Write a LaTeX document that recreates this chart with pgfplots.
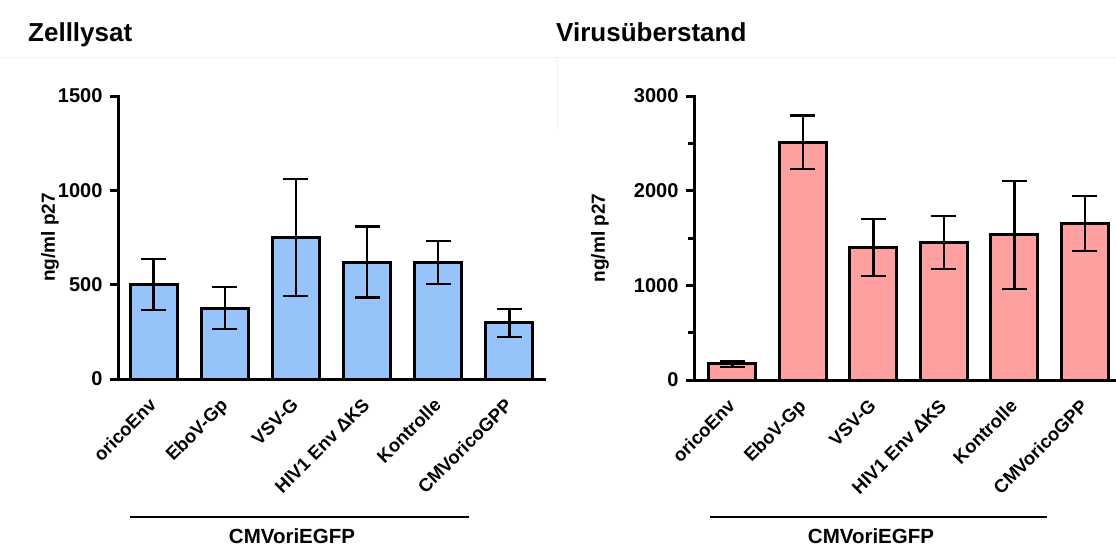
\documentclass[border=0pt]{standalone}
\usepackage{pgfplots}
\pgfplotsset{compat=1.18}
\usepackage{pgfplotstable}
\usepackage{fontspec}
\setmainfont{Liberation Sans}
\definecolor{barblue}{RGB}{150,195,250}
\definecolor{barpink}{RGB}{255,160,160}

\pgfplotstableread{
x y err
0 500 135
1 375 112
2 750 310
3 620 188
4 617 115
5 298 75
}\lysat
\pgfplotstableread{
x y err
0 170 30
1 2510 285
2 1400 300
3 1450 280
4 1535 570
5 1650 290
}\virus

\pgfplotsset{
  mybar/.style={
    scale only axis,
    axis x line*=bottom, axis y line*=left,
    axis line style={line width=3pt, line cap=rect},
    ymin=0,
    xtick={0,1,2,3,4,5},
    xticklabels={oricoEnv,EboV-Gp,VSV-G,HIV1 Env ΔKS,Kontrolle,CMVoricoGPP},
    x tick label style={rotate=45, anchor=north east, font=\fontsize{18.5}{20}\selectfont\bfseries, inner sep=2pt, yshift=-1pt, xshift=-9pt},
    y tick label style={font=\fontsize{20}{22}\selectfont\bfseries, xshift=-4pt},
    /pgf/number format/assume math mode=true,
    /pgf/number format/1000 sep={},
    major x tick style={draw=none},
    major y tick style={line width=3pt, black},
    minor y tick style={line width=3pt, black},
    tick align=outside,
    major tick length=8pt,
    minor tick length=6pt,
    ylabel={ng/ml p27},
    ylabel style={font=\fontsize{19}{21}\selectfont\bfseries, rotate=0},
    ybar, bar width=47pt,
    error bars/y dir=both, error bars/y explicit,
    error bars/error bar style={line width=2.2pt, black},
    error bars/error mark options={rotate=90, mark size=12.5pt, line width=2.2pt, black},
    clip=false,
  }
}

\begin{document}
\begin{tikzpicture}[x=1pt,y=1pt]
\useasboundingbox (0,0) rectangle (1116,-547);
\draw[black!6, line width=1pt] (0,-57) -- (1116,-57);
\draw[black!6, line width=1pt] (557,-57) -- (557,-130);

\node[anchor=base west, font=\fontsize{26}{28}\selectfont\bfseries, inner sep=0pt] at (28,-41) {Zelllysat};
\node[anchor=base west, font=\fontsize{26}{28}\selectfont\bfseries, inner sep=0pt] at (556,-41) {Virusüberstand};

\begin{axis}[mybar, at={(118pt,-379pt)}, anchor=south west,
  width=427pt, height=283pt,
  xmin=-0.5, xmax=5.5, ymax=1500,
  ytick={0,500,1000,1500},
  ylabel style={at={(axis description cs:-0.159,0.5)}, anchor=center},
  ]
  \addplot[draw=black, line width=3pt, fill=barblue] table[x=x, y=y, y error=err] {\lysat};
\end{axis}

\begin{axis}[mybar, at={(694pt,-380pt)}, anchor=south west,
  width=422pt, height=284pt,
  xmin=-0.545, xmax=5.44, ymax=3000,
  ytick={0,1000,2000,3000},
  minor ytick={500,1500,2500},
  ylabel style={at={(axis description cs:-0.223,0.5)}, anchor=center},
  ]
  \addplot[draw=black, line width=3pt, fill=barpink] table[x=x, y=y, y error=err] {\virus};
\end{axis}

\draw[line width=2.5pt] (130,-517) -- (469,-517);
\node[anchor=base, font=\fontsize{20.5}{22}\selectfont\bfseries, inner sep=0pt] at (292,-543) {CMVoriEGFP};
\draw[line width=2.5pt] (710,-517) -- (1047,-517);
\node[anchor=base, font=\fontsize{20.5}{22}\selectfont\bfseries, inner sep=0pt] at (871,-543) {CMVoriEGFP};
\end{tikzpicture}
\end{document}
